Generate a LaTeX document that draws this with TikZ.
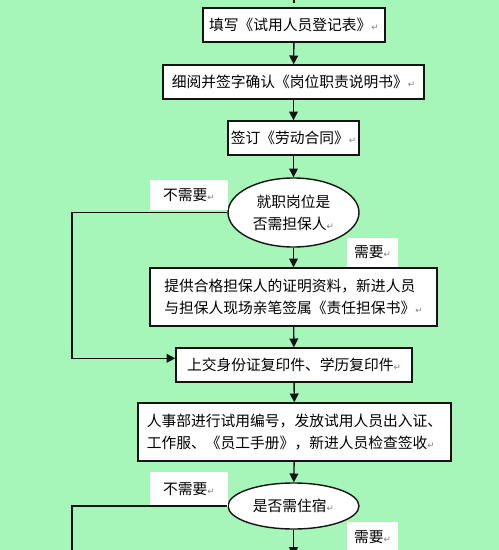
\documentclass[tikz,border=0pt]{standalone}
\usepackage{fontspec}
\setmainfont{Noto Sans CJK SC}
\newfontfamily\pmarkfont{DejaVu Sans}
\usetikzlibrary{shapes.geometric,arrows.meta}
\definecolor{bgc}{RGB}{166,246,186}
\definecolor{lnc}{RGB}{20,20,20}
\newcommand\pmark{{\pmarkfont\fontsize{5}{6}\selectfont\textcolor{gray}{↵}}}
\tikzset{
  pbox/.style 2 args={draw=lnc, line width=0.8pt, fill=white, minimum width=#1*0.02cm, minimum height=#2*0.02cm, inner sep=0pt, align=left},
  pell/.style 2 args={ellipse, draw=lnc, line width=0.8pt, fill=white, minimum width=#1*0.02cm, minimum height=#2*0.02cm, inner sep=0pt, align=center},
  plab/.style 2 args={fill=white, minimum width=#1*0.02cm, minimum height=#2*0.02cm, inner sep=0pt},
  conn/.style={draw=lnc, line width=0.8pt},
  arr/.style={conn, -{Triangle[length=5pt,width=5pt]}}
}
\begin{document}
\begin{tikzpicture}[x=0.02cm, y=-0.02cm, font=\fontsize{8.4}{12.5}\selectfont]
\fill[bgc] (0,0) rectangle (499,550);
\useasboundingbox (0,0) rectangle (499,550);

% nodes
\node[pbox={182}{34}] (b1) at (294,25) {填写《试用人员登记表》\pmark};
\node[pbox={261}{34}] (b2) at (293.5,82) {细阅并签字确认《岗位职责说明书》\pmark};
\node[pbox={131}{34}] (b3) at (293.5,138) {签订《劳动合同》\pmark};
\node[pell={131}{69}] (e1) at (293.5,212.5) {就职岗位是\\否需担保人\pmark};
\node[pbox={287}{58}] (b5) at (293.5,297) {提供合格担保人的证明资料，新进人员\\与担保人现场亲笔签属《责任担保书》\pmark};
\node[pbox={236}{34}] (b4) at (294,365) {上交身份证复印件、学历复印件\pmark};
\node[pbox={313}{58}] (b6) at (294.5,432) {人事部进行试用编号，发放试用人员出入证、\\工作服、《员工手册》，新进人员检查签收\pmark};
\node[pell={131}{46}] (e2) at (293.5,506) {是否需住宿\pmark};

% labels
\node[plab={78}{30}] (l1) at (189,195) {不需要\pmark};
\node[plab={51}{29}] (l2) at (372.5,252.5) {需要\pmark};
\node[plab={78}{35}] (l3) at (189,489.5) {不需要\pmark};
\node[plab={51}{30}] (l4) at (372.5,537) {需要\pmark};

% helper coordinates
\coordinate (topa) at (294,-5);
\coordinate (topb) at (294,3);
\coordinate (lc1) at (72,212.5);
\coordinate (lc2) at (72,506);
\coordinate (lend) at (72,560);
\coordinate (bend) at (293.5,556);

% connectors
\draw[conn] (topa) -- (topb);
\draw[arr] (b1) -- (b2);
\draw[arr] (b2) -- (b3);
\draw[arr] (b3) -- (e1);
\draw[arr] (e1) -- (b5);
\draw[arr] (b5) -- (b4);
\draw[arr] (b4) -- (b6);
\draw[arr] (b6) -- (e2);
\draw[arr] (e2) -- (bend);
\draw[arr] (e1.west) -- (lc1) |- ([yshift=-0.22cm]b4.north west);
\draw[conn] (e2.west) -- (lc2) -- (lend);
\end{tikzpicture}
\end{document}
